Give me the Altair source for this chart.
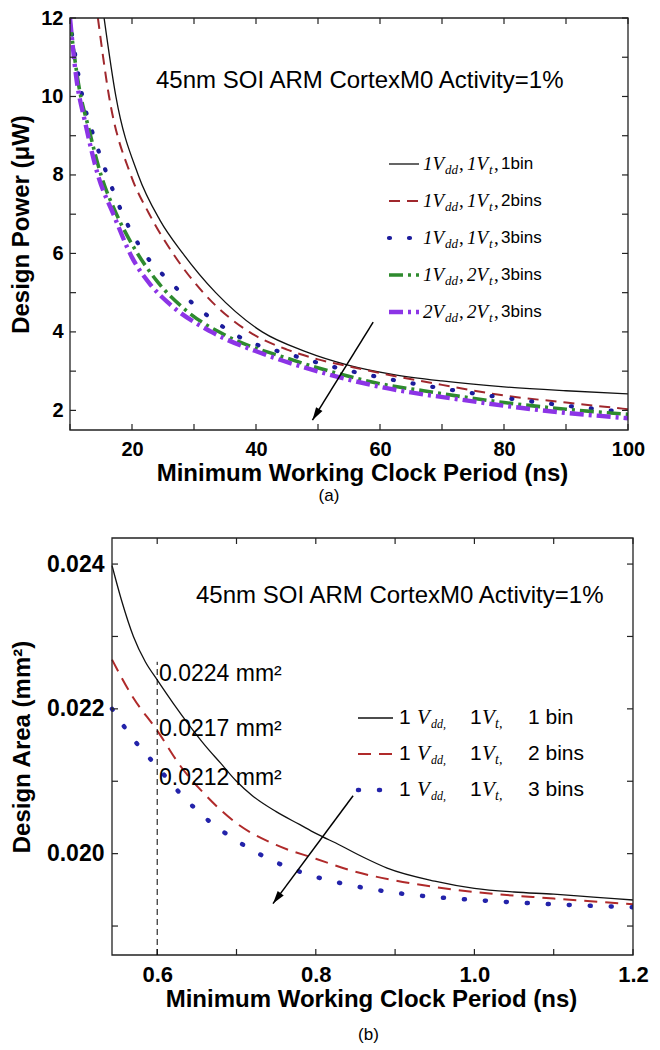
import altair as alt
import pandas as pd

SANS = "Liberation Sans"
SERIF = "Liberation Serif"

# ---------------- panel (a): Design Power vs clock period ----------------
a_x_1bin = [15.5, 17.4, 21, 24.5, 28.2, 33.5, 41, 48, 55, 62, 70, 80, 90, 100]
a_y_1bin = [12, 10, 8, 6.85, 6, 5, 4, 3.5, 3.15, 2.92, 2.75, 2.6, 2.5, 2.42]
a_x_2bins = [14.5, 16.3, 19.8, 22.8, 26.6, 31.5, 38.9, 45, 50, 55, 60, 70, 80, 90, 100]
a_y_2bins = [12, 10, 8, 7, 6, 5, 4, 3.55, 3.3, 3.12, 2.95, 2.65, 2.38, 2.2, 2.03]
a_x_3bins = [10.3, 12, 14, 16, 18.5, 22, 26, 31.5, 37, 46.4, 53.2, 62.7, 70, 80, 90, 100]
a_y_3bins = [11.6, 10, 8.9, 8, 7, 6, 5.3, 4.5, 3.9, 3.38, 3.08, 2.76, 2.56, 2.32, 2.12, 1.95]
a_x_2vt = [10, 11.5, 13, 15, 17.5, 20.5, 24, 28.7, 35.5, 45, 53, 60, 67, 80, 90, 100]
a_y_2vt = [11.9, 10.2, 9.2, 8, 7, 6.1, 5.3, 4.55, 3.88, 3.33, 2.95, 2.68, 2.5, 2.2, 2.03, 1.9]
a_x_2vdd = [10, 11, 12.5, 14.5, 17, 20, 23, 26, 32.8, 41, 50.5, 60, 73.6, 85, 100]
a_y_2vdd = [12, 10.5, 9.3, 8, 7, 5.9, 5.2, 4.72, 4, 3.45, 2.97, 2.6, 2.26, 2.02, 1.8]
a_arrow_x = [58.9, 49.1]
a_arrow_y = [4.25, 1.75]
a_xticks = [10, 20, 30, 40, 50, 60, 70, 80, 90, 100]
a_yticks = [2, 3, 4, 5, 6, 7, 8, 9, 10, 11, 12]
a_leg_vdd = ["1", "1", "1", "1", "2"]
a_leg_vt = ["1", "1", "1", "2", "2"]
a_leg_bins = ["1bin", "2bins", "3bins", "3bins", "3bins"]
a_note = "45nm SOI ARM CortexM0 Activity=1%"

# ---------------- panel (b): Design Area vs clock period ----------------
b_x_1bin = [0.543, 0.555, 0.57, 0.585, 0.6, 0.62, 0.64, 0.66, 0.68, 0.70, 0.72, 0.75, 0.78,
            0.80, 0.83, 0.86, 0.89, 0.95, 1.0, 1.05, 1.1, 1.15, 1.2]
b_y_1bin = [0.02398, 0.0235, 0.0230, 0.02265, 0.0224, 0.02208, 0.02178, 0.0215, 0.02125,
            0.0210, 0.0208, 0.02058, 0.0204, 0.02028, 0.02012, 0.01995, 0.0198, 0.01962,
            0.01952, 0.01947, 0.01944, 0.0194, 0.01936]
b_x_2bins = [0.543, 0.57, 0.6, 0.63, 0.66, 0.7, 0.75, 0.8, 0.85, 0.9, 0.95, 1.0, 1.1, 1.2]
b_y_2bins = [0.02268, 0.02215, 0.0217, 0.0212, 0.02082, 0.02042, 0.02012, 0.01993, 0.01975,
             0.01963, 0.01954, 0.01947, 0.01938, 0.0193]
b_x_3bins = [0.543, 0.57, 0.6, 0.63, 0.66, 0.7, 0.75, 0.8, 0.85, 0.9, 0.95, 1.0, 1.1, 1.2]
b_y_3bins = [0.0220, 0.02158, 0.0212, 0.02082, 0.0205, 0.02018, 0.01988, 0.01968, 0.01955,
             0.01946, 0.0194, 0.01936, 0.0193, 0.01926]
b_arrow_x = [0.847, 0.746]
b_arrow_y = [0.0208, 0.01931]
b_vline_x = 0.6
b_vline_y = [0.0186, 0.02265]
b_xticks = [0.6, 0.7, 0.8, 0.9, 1.0, 1.1, 1.2]
b_yticks = [0.019, 0.020, 0.021, 0.022, 0.023, 0.024]
b_values = ["0.0224 mm²", "0.0217 mm²", "0.0212 mm²"]
b_leg_bins = ["1 bin", "2 bins", "3 bins"]
b_note = "45nm SOI ARM CortexM0 Activity=1%"

# ---------------- layout / style ----------------
W_A, H_A = 558, 412
A_XDOM, A_YDOM = [10, 100], [1.5, 12]

B_FRAME_W, B_GAP, H_B = 521, 42, 417          # panel (b) frame starts B_GAP px right
B_X0, B_X1 = 0.543, 1.2
B_XDOM = [B_X0 - B_GAP * (B_X1 - B_X0) / B_FRAME_W, B_X1]
W_B = B_FRAME_W + B_GAP
B_YDOM = [0.0186, 0.02436]
TL = 6  # inward tick length

a_styles = [
    dict(color="#111111", strokeWidth=1.3),
    dict(color="#a0282d", strokeWidth=2.0, strokeDash=[11, 7]),
    dict(color="#1c1c9c", strokeWidth=4.2, strokeDash=[1, 19], strokeCap="round"),
    dict(color="#2e8b2e", strokeWidth=3.6, strokeDash=[14, 5, 3, 5]),
    dict(color="#8c34e6", strokeWidth=4.4, strokeDash=[14, 5, 3, 5]),
]
b_styles = [
    dict(color="#111111", strokeWidth=1.3),
    dict(color="#b02a2a", strokeWidth=2.0, strokeDash=[13, 8]),
    dict(color="#2323aa", strokeWidth=4.5, strokeDash=[1, 20], strokeCap="round"),
]
FRAME = "#222222"


def enc_x(dom, axis=None, field="x"):
    return alt.X(f"{field}:Q", scale=alt.Scale(domain=dom, nice=False, zero=False), axis=axis)


def enc_y(dom, axis=None, field="y"):
    return alt.Y(f"{field}:Q", scale=alt.Scale(domain=dom, nice=False, zero=False), axis=axis)


def line(xs, ys, style, xdom, ydom, xaxis=None, yaxis=None):
    df = pd.DataFrame({"x": xs, "y": ys})
    return alt.Chart(df).mark_line(clip=True, interpolate="monotone", **style).encode(
        x=enc_x(xdom, xaxis), y=enc_y(ydom, yaxis))


def txt(x, y, s, size, font=SANS, style="normal", weight="normal", dy=0):
    return alt.Chart(pd.DataFrame({"t": [s]})).mark_text(
        align="left", baseline="middle", font=font, fontSize=size, fontStyle=style,
        fontWeight=weight, dy=dy, color="black").encode(
        x=alt.value(x), y=alt.value(y), text="t:N")


def sym(x1, x2, y, style):
    return alt.Chart(pd.DataFrame({"k": [0]})).mark_rule(**style).encode(
        x=alt.value(x1), x2=alt.value(x2), y=alt.value(y))


def arrow(xs, ys, xdom, ydom, angle):
    df = pd.DataFrame({"x": [xs[0]], "y": [ys[0]], "x2": [xs[1]], "y2": [ys[1]]})
    shaft = alt.Chart(df).mark_rule(color="black", strokeWidth=1.5).encode(
        x=enc_x(xdom), y=enc_y(ydom), x2="x2:Q", y2="y2:Q")
    tip = pd.DataFrame({"x": [xs[1]], "y": [ys[1]]})
    head = alt.Chart(tip).mark_point(
        shape="M0,0L-0.75,2.6L0.75,2.6Z", filled=True, color="black", opacity=1,
        size=100, angle=angle, strokeWidth=0).encode(x=enc_x(xdom), y=enc_y(ydom))
    return [shaft, head]


def frame_and_ticks(xdom, ydom, x_lo, x_hi, xticks, yticks, left_px, right_px, height):
    fr = pd.DataFrame({"x": [x_lo], "x2": [x_hi], "y": [ydom[0]], "y2": [ydom[1]]})
    frame = alt.Chart(fr).mark_rect(fillOpacity=0, stroke=FRAME, strokeWidth=1.3).encode(
        x=enc_x(xdom), x2="x2:Q", y=enc_y(ydom), y2="y2:Q")
    tx = pd.DataFrame({"v": xticks})
    ty = pd.DataFrame({"v": yticks})
    rs = dict(color=FRAME, strokeWidth=1.2)
    out = [frame]
    out.append(alt.Chart(tx).mark_rule(**rs).encode(
        x=enc_x(xdom, field="v"), y=alt.value(height), y2=alt.value(height - TL)))
    out.append(alt.Chart(tx).mark_rule(**rs).encode(
        x=enc_x(xdom, field="v"), y=alt.value(0), y2=alt.value(TL)))
    out.append(alt.Chart(ty).mark_rule(**rs).encode(
        y=enc_y(ydom, field="v"), x=alt.value(left_px), x2=alt.value(left_px + TL)))
    out.append(alt.Chart(ty).mark_rule(**rs).encode(
        y=enc_y(ydom, field="v"), x=alt.value(right_px), x2=alt.value(right_px - TL)))
    return out


# ---------------- panel (a) ----------------
a_series = [(a_x_1bin, a_y_1bin), (a_x_2bins, a_y_2bins), (a_x_3bins, a_y_3bins),
            (a_x_2vt, a_y_2vt), (a_x_2vdd, a_y_2vdd)]

a_xaxis = alt.Axis(values=a_xticks, labelExpr="datum.value % 20 == 0 ? datum.label : ''",
                   ticks=False, labelPadding=9, titlePadding=2, labelFontSize=20,
                   labelOverlap=False, labelFlush=False, titleX=292,
                   title="Minimum Working Clock Period (ns)")
a_yaxis = alt.Axis(values=a_yticks, labelExpr="datum.value % 2 == 0 ? datum.label : ''",
                   ticks=False, labelPadding=7, titlePadding=7, labelFontSize=20,
                   labelOverlap=False, title="Design Power (μW)")

a_layers = []
for i, (xs, ys) in enumerate(a_series):
    if i == 0:
        a_layers.append(line(xs, ys, a_styles[i], A_XDOM, A_YDOM, a_xaxis, a_yaxis))
    else:
        a_layers.append(line(xs, ys, a_styles[i], A_XDOM, A_YDOM))
a_layers += frame_and_ticks(A_XDOM, A_YDOM, A_XDOM[0], A_XDOM[1], a_xticks, a_yticks,
                            0, W_A, H_A)
a_layers += arrow(a_arrow_x, a_arrow_y, A_XDOM, A_YDOM, 211.8)
a_layers.append(txt(86, 63, a_note, 24))

A_LEG_Y0, A_LEG_DY = 146, 37
for i in range(5):
    y = A_LEG_Y0 + i * A_LEG_DY
    a_layers.append(sym(319, 349, y, a_styles[i]))
    a_layers.append(txt(353, y, a_leg_vdd[i] + "V", 19, font=SERIF, style="italic"))
    a_layers.append(txt(375, y, "dd", 13, font=SERIF, style="italic", dy=6))
    a_layers.append(txt(389, y, ",", 19, font=SERIF))
    a_layers.append(txt(397, y, a_leg_vt[i] + "V", 19, font=SERIF, style="italic"))
    a_layers.append(txt(419, y, "t", 13, font=SERIF, style="italic", dy=6))
    a_layers.append(txt(424, y, ",", 19, font=SERIF))
    a_layers.append(txt(431, y, a_leg_bins[i], 17))

chart_a = alt.layer(*a_layers).resolve_axis(x="independent", y="independent").properties(
    width=W_A, height=H_A,
    title=alt.TitleParams("(a)", orient="bottom", frame="group", anchor="middle",
                          fontSize=17, fontWeight="normal", font=SANS, offset=3, dx=-20))

# ---------------- panel (b) ----------------
b_series = [(b_x_1bin, b_y_1bin), (b_x_2bins, b_y_2bins), (b_x_3bins, b_y_3bins)]

b_xaxis = alt.Axis(values=b_xticks, format=".1f",
                   labelExpr="round(datum.value * 10) % 2 == 0 ? datum.label : ''",
                   ticks=False, labelPadding=9, titlePadding=2, labelFontSize=22,
                   labelOverlap=False, labelFlush=False, titleX=301,
                   title="Minimum Working Clock Period (ns)")
b_yaxis = alt.Axis(values=b_yticks, format=".3f",
                   labelExpr="round(datum.value * 1000) % 2 == 0 ? datum.label : ''",
                   ticks=False, labelPadding=8, titlePadding=12, labelFontSize=23,
                   offset={"expr": str(-B_GAP)},
                   labelOverlap=False, title="Design Area (mm²)")

b_layers = []
for i, (xs, ys) in enumerate(b_series):
    if i == 0:
        b_layers.append(line(xs, ys, b_styles[i], B_XDOM, B_YDOM, b_xaxis, b_yaxis))
    else:
        b_layers.append(line(xs, ys, b_styles[i], B_XDOM, B_YDOM))
b_layers += frame_and_ticks(B_XDOM, B_YDOM, B_X0, B_X1, b_xticks, b_yticks,
                            B_GAP, W_B, H_B)

vdf = pd.DataFrame({"x": [b_vline_x], "y": [b_vline_y[0]], "y2": [b_vline_y[1]]})
b_layers.append(alt.Chart(vdf).mark_rule(color="black", strokeWidth=1, strokeDash=[6, 4]).encode(
    x=enc_x(B_XDOM), y=enc_y(B_YDOM), y2="y2:Q"))
b_layers += arrow(b_arrow_x, b_arrow_y, B_XDOM, B_YDOM, 216.5)
b_layers.append(txt(126, 58, b_note, 24))
for s, yy in zip(b_values, [136, 191, 240]):
    b_layers.append(txt(89, yy, s, 23))

B_LEG_Y0, B_LEG_DY = 180, 36
for i in range(3):
    y = B_LEG_Y0 + i * B_LEG_DY
    b_layers.append(sym(288, 323, y, b_styles[i]))
    b_layers.append(txt(329, y, "1", 21))
    b_layers.append(txt(347, y, "V", 21, font=SERIF, style="italic"))
    b_layers.append(txt(361, y, "dd,", 12, font=SERIF, style="italic", dy=6))
    b_layers.append(txt(400, y, "1", 21))
    b_layers.append(txt(412, y, "V", 21, font=SERIF, style="italic"))
    b_layers.append(txt(425, y, "t,", 14, font=SERIF, style="italic", dy=6))
    b_layers.append(txt(458, y, b_leg_bins[i], 21))

chart_b = alt.layer(*b_layers).resolve_axis(x="independent", y="independent").properties(
    width=W_B, height=H_B,
    title=alt.TitleParams("(b)", orient="bottom", frame="group", anchor="middle",
                          fontSize=17, fontWeight="normal", font=SANS, offset=16, dx=17))

chart = alt.vconcat(chart_a, chart_b, spacing=33).configure(
    padding={"left": 1, "top": 0, "right": 0, "bottom": 0}, font=SANS
).configure_view(strokeWidth=0).configure_axis(
    domain=False, grid=False, labelFont=SANS, labelFontWeight="bold",
    labelColor="black", titleFont=SANS, titleFontWeight="bold", titleFontSize=24,
    titleColor="black")

chart.save("out.html", embed_options={"renderer": "svg", "actions": False})
